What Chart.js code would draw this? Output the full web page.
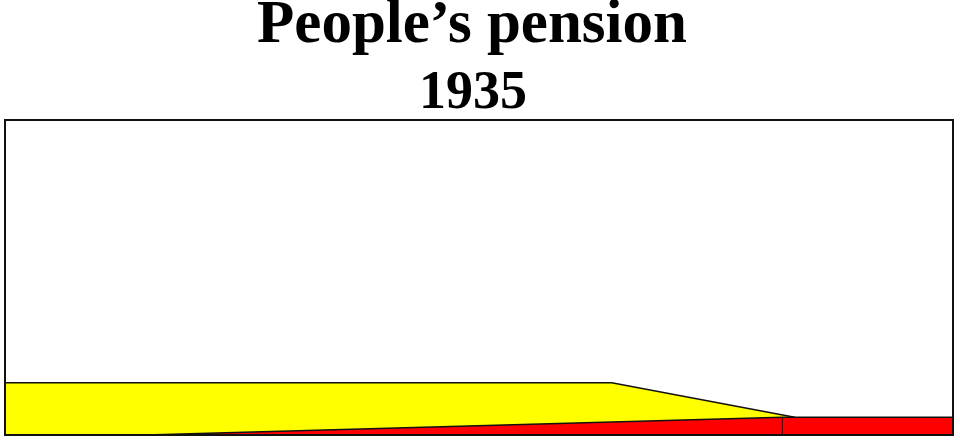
<!DOCTYPE html>
<html>
<head>
<meta charset="utf-8">
<script src="https://cdn.jsdelivr.net/npm/chart.js@4/dist/chart.umd.min.js"></script>
<style>
html,body{margin:0;padding:0;background:#fff;}
#wrap{width:960px;height:441px;}
</style>
</head>
<body>
<div id="wrap"><canvas id="c" width="960" height="441"></canvas></div>
<script>
const titleText = "People\u2019s pension";
const subtitleText = "1935";
const yellowX = [0, 64, 83.3];
const yellowY = [16.6, 16.6, 5.6];
const redX = [0, 14.8, 82, 100];
const redY = [0, 0, 5.6, 5.6];
const dividerX = [82, 82];
const dividerY = [0, 5.6];

const pts = (xs, ys) => xs.map((x, i) => ({x: x, y: ys[i]}));

const frame = {
  id: 'frame',
  afterLayout(chart) {
    // centre the titles slightly left of the canvas centre, as in the reference
    chart.boxes.forEach(b => {
      if (!b.options || b.options.text === undefined) return;
      if (b.options.text === titleText) b.right -= 14;
      else if (b.options.text === subtitleText) b.right -= 12;
    });
  },
  afterDatasetsDraw(chart) {
    const a = chart.chartArea, ctx = chart.ctx;
    ctx.save();
    ctx.strokeStyle = '#111';
    ctx.lineWidth = 2;
    ctx.strokeRect(a.left, a.top, a.right - a.left, a.bottom - a.top);
    ctx.restore();
  }
};

const serif = '"Liberation Serif", "Times New Roman", serif';

new Chart(document.getElementById('c'), {
  type: 'line',
  data: {
    datasets: [
      {
        data: pts(dividerX, dividerY),
        borderColor: '#3a0000', borderWidth: 1, fill: false,
        pointRadius: 0, order: 0
      },
      {
        data: pts(redX, redY),
        borderColor: '#111', borderWidth: 1.5,
        backgroundColor: '#ff0000', fill: 'origin',
        pointRadius: 0, order: 1
      },
      {
        data: pts(yellowX, yellowY),
        borderColor: '#111', borderWidth: 1.5,
        backgroundColor: '#ffff00', fill: 'origin',
        pointRadius: 0, order: 2
      }
    ]
  },
  options: {
    responsive: false,
    animation: false,
    events: [],
    layout: {padding: {left: 5, right: 7, bottom: 6, top: 0}},
    elements: {line: {tension: 0}},
    plugins: {
      legend: {display: false},
      tooltip: {enabled: false},
      title: {
        display: true,
        text: titleText,
        color: '#000',
        font: {family: serif, size: 61, weight: 'bold', lineHeight: 1},
        padding: {top: -4, bottom: 0}
      },
      subtitle: {
        display: true,
        text: subtitleText,
        color: '#000',
        font: {family: serif, size: 54, weight: 'bold', lineHeight: 1},
        padding: {top: 10.3, bottom: -1.3}
      }
    },
    scales: {
      x: {type: 'linear', min: 0, max: 100, display: false},
      y: {type: 'linear', min: 0, max: 100, display: false}
    }
  },
  plugins: [frame]
});
</script>
</body>
</html>
